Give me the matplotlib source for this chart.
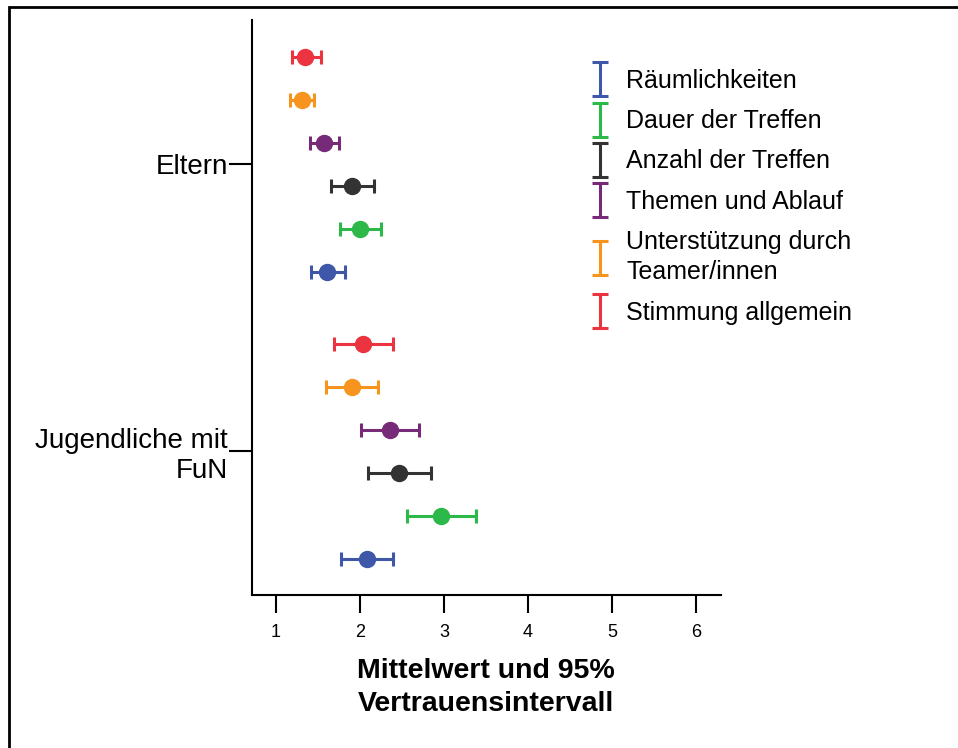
import numpy as np
import matplotlib.pyplot as plt
from matplotlib.collections import LineCollection
from matplotlib.container import ErrorbarContainer
from matplotlib.legend_handler import HandlerErrorbar
from matplotlib.lines import Line2D
from matplotlib.patches import Rectangle

plt.rcParams["font.family"] = ["Liberation Sans", "DejaVu Sans"]

# %% data: mean and 95% CI bounds, rows listed top to bottom inside each group
groups = ["Eltern", "Jugendliche mit\nFuN"]
items = ["Stimmung allgemein", "Unterstützung durch\nTeamer/innen", "Themen und Ablauf",
         "Anzahl der Treffen", "Dauer der Treffen", "Räumlichkeiten"]
colors = ["#EC3340", "#F7941D", "#772A77", "#333333", "#2DB84A", "#3F57A8"]

eltern_mean = [1.35, 1.31, 1.57, 1.91, 2.00, 1.61]
eltern_low = [1.19, 1.17, 1.40, 1.65, 1.76, 1.42]
eltern_high = [1.53, 1.45, 1.75, 2.17, 2.25, 1.82]

jugend_mean = [2.04, 1.90, 2.36, 2.46, 2.96, 2.08]
jugend_low = [1.69, 1.59, 2.01, 2.09, 2.56, 1.77]
jugend_high = [2.39, 2.22, 2.70, 2.85, 3.38, 2.39]

xticks = [1, 2, 3, 4, 5, 6]
xlabel = "Mittelwert und 95%\nVertrauensintervall"

# %% layout
fig = plt.figure(figsize=(9.58, 7.48), dpi=100)
ax = fig.add_axes([0.263, 0.2041, 0.4893, 0.7692])

group_gap = 6.66
group_data = [
    (eltern_mean, eltern_low, eltern_high),
    (jugend_mean, jugend_low, jugend_high),
]

for g, (mean, low, high) in enumerate(group_data):
    mean = np.array(mean)
    err = np.array([mean - np.array(low), np.array(high) - mean])
    for i, c in enumerate(colors):
        y = g * group_gap + i
        ax.errorbar(mean[i], y, xerr=err[:, i:i + 1], fmt="o", color=c,
                    ms=11.5, elinewidth=2.2, capsize=4.7, capthick=2.2)

ax.set_xlim(0.714, 6.294)
ax.set_ylim(12.50, -0.85)
ax.set_xticks(xticks)
ax.set_xticklabels([str(t) for t in xticks], fontsize=13)
ax.set_yticks([g * group_gap + 2.5 for g in range(len(groups))])
ax.set_yticklabels(groups, fontsize=20, ha="right", multialignment="right",
                   linespacing=1.2)
ax.tick_params(axis="x", length=13, width=1.5, pad=8)
ax.tick_params(axis="y", length=16.5, width=1.5, pad=1)
ax.set_xlabel(xlabel, fontsize=20.5, fontweight="bold", labelpad=12, linespacing=1.34)

for side in ["top", "right"]:
    ax.spines[side].set_visible(False)
for side in ["left", "bottom"]:
    ax.spines[side].set_linewidth(1.5)

# %% legend with vertical error bar symbols
handles = []
for c in colors[::-1]:
    line = Line2D([], [], linestyle="none", color=c)
    cap = Line2D([], [], linestyle="none", marker="_", markersize=11.5,
                 markeredgewidth=2.2, color=c)
    bars = LineCollection([], colors=c, linewidths=2.2)
    handles.append(ErrorbarContainer((line, (cap, cap), (bars,)),
                                     has_xerr=False, has_yerr=True))

leg = fig.legend(handles, items[::-1], loc="upper left",
                 bbox_to_anchor=(590 / 958, 1 - 69 / 748),
                 frameon=False, fontsize=18, borderpad=0, borderaxespad=0,
                 handlelength=0.8, handletextpad=0.65, labelspacing=0.65,
                 handler_map={ErrorbarContainer: HandlerErrorbar(yerr_size=0.68)})
for t in leg.get_texts():
    t.set_linespacing(1.33)

# outer frame
fig.patches.append(Rectangle((9.3 / 958, -0.1), 1.2, 1.1 - 6.7 / 748,
                             transform=fig.transFigure, fill=False,
                             edgecolor="black", linewidth=2))

fig.savefig("out.png", dpi=100)
